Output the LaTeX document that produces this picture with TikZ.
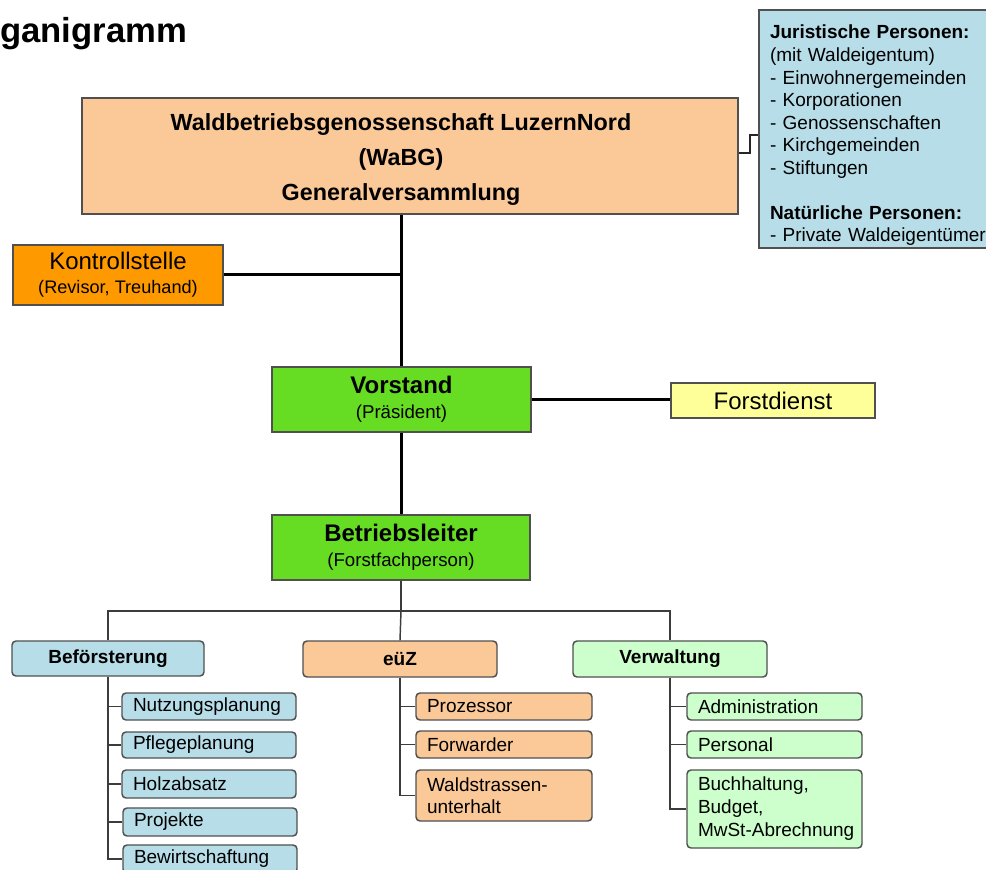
\documentclass[tikz,border=0pt]{standalone}
\usepackage{fontspec}
\setmainfont{Liberation Sans}
\definecolor{peach}{RGB}{251,200,152}
\definecolor{orangeK}{RGB}{255,153,0}
\definecolor{greenV}{RGB}{102,221,34}
\definecolor{yellowF}{RGB}{255,255,153}
\definecolor{blueB}{RGB}{183,221,232}
\definecolor{greenL}{RGB}{204,255,204}
\definecolor{bordergray}{RGB}{80,80,80}
\definecolor{linegray}{RGB}{60,60,60}
\newcommand\bx[7]{\node[#6, minimum width={(#4-#2)*0.75pt}, minimum height={(#5-#3)*0.75pt}] (#1) at ({(#2+#4)/2},{(#3+#5)/2}) {#7};}
\newcommand\lbx[7]{\pgfmathsetmacro\mytw{(#4-#2-22)*0.75}\node[#6, text width=\mytw pt, minimum height={(#5-#3)*0.75pt}] (#1) at ({(#2+#4)/2},{(#3+#5)/2}) {#7};}
\begin{document}
\begin{tikzpicture}[x=0.75pt,y=-0.75pt,
  box/.style={draw=bordergray, line width=1.1pt, inner sep=0pt, align=center},
  head/.style={box, rounded corners=3pt, font=\bfseries\fontsize{14.25}{17}\selectfont},
  sub/.style={box, rounded corners=3pt, align=left, inner xsep=8.25pt, font=\fontsize{14.25}{16.5}\selectfont},
  trunk/.style={line width=2.25pt, black},
  branch/.style={line width=1.1pt, draw=linegray},
  conn/.style={line width=1.6pt, draw=black!85}]
\useasboundingbox (0,0) rectangle (986,870);
\clip (0,0) rectangle (986,870);

\node[anchor=base west, inner sep=0pt, font=\bfseries\fontsize{26}{30}\selectfont] (title) at (0,43) {ganigramm};

\bx{wabg}{82}{98}{738}{214}{box, fill=peach}{}
\node[align=center, inner sep=0pt, font=\bfseries\fontsize{17.5}{26.25}\selectfont] (wabgtext) at (401,160) {Waldbetriebsgenossenschaft LuzernNord\\(WaBG)\\Generalversammlung};

\lbx{jur}{759}{10}{1000}{248}{box, fill=blueB, align=left, inner xsep=8.25pt, font=\fontsize{14.25}{16.9}\selectfont}{\rule{0pt}{20pt}\textbf{Juristische Personen:}\\(mit Waldeigentum)\\- Einwohnergemeinden\\- Korporationen\\- Genossenschaften\\- Kirchgemeinden\\- Stiftungen\\[16.9pt]\textbf{Natürliche Personen:}\\- Private Waldeigentümer}

\bx{kontroll}{13}{245}{223}{305}{box, fill=orangeK, font=\fontsize{13.6}{18}\selectfont}{{\fontsize{18}{18}\selectfont Kontrollstelle}\\(Revisor, Treuhand)}

\bx{vorstand}{272}{367}{531}{432}{box, fill=greenV, font=\fontsize{14}{18.75}\selectfont}{{\bfseries\fontsize{18}{18.75}\selectfont Vorstand}\\(Präsident)}

\bx{forst}{671}{383}{875}{418}{box, fill=yellowF, font=\fontsize{18}{20}\selectfont}{Forstdienst}

\bx{betrieb}{272}{515}{530}{580}{box, fill=greenV, font=\fontsize{14}{18.75}\selectfont}{{\bfseries\fontsize{18}{18.75}\selectfont Betriebsleiter}\\(Forstfachperson)}

\bx{befo}{12}{641}{204}{676}{head, fill=blueB}{Beförsterung}
\bx{euz}{303}{641}{497}{677}{head, fill=peach}{eüZ}
\bx{verw}{573}{641}{767}{677}{head, fill=greenL}{Verwaltung}

\lbx{n1}{122}{693}{296}{720}{sub, fill=blueB}{Nutzungsplanung}
\lbx{n2}{122}{732}{296}{758}{sub, fill=blueB}{Pflegeplanung}
\lbx{n3}{122}{770}{296}{798}{sub, fill=blueB}{Holzabsatz}
\lbx{n4}{123}{808}{297}{836}{sub, fill=blueB}{Projekte}
\lbx{n5}{123}{845}{297}{873}{sub, fill=blueB}{Bewirtschaftung}

\lbx{e1}{416}{693}{592}{720}{sub, fill=peach}{Prozessor}
\lbx{e2}{416}{731}{592}{758}{sub, fill=peach}{Forwarder}
\lbx{e3}{416}{770}{592}{821}{sub, fill=peach}{Waldstrassen-\\unterhalt}

\lbx{v1}{687}{693}{862}{720}{sub, fill=greenL}{Administration}
\lbx{v2}{687}{731}{862}{758}{sub, fill=greenL}{Personal}
\lbx{v3}{687}{770}{862}{848}{sub, fill=greenL, font=\fontsize{14.25}{17.2}\selectfont}{Buchhaltung,\\Budget,\\\mbox{MwSt-Abrechnung}}

% upper connectors
\draw[trunk] (vorstand.north |- wabg.south) -- (vorstand.north);
\draw[trunk] (kontroll.east) -- (kontroll.east -| vorstand.north);
\draw[trunk] (vorstand.east) -- (vorstand.east -| forst.west);
\draw[trunk] (vorstand.south) -- (vorstand.south |- betrieb.north);
\draw[conn] ([yshift=2pt]wabg.east) -- ++(11,0) |- ([yshift=-4.5pt]jur.west);

% lower tree
\coordinate (hb) at (betrieb.south |- 0,611);
\draw[branch] (betrieb.south) -- (hb);
\draw[branch] (befo.north) |- (hb) -| (verw.north);
\draw[branch] (hb) -- (euz.north);

\draw[branch] (befo.south) |- (n5.west);
\foreach \n in {n1,n2,n3,n4} \draw[branch] (\n.west) -- (\n.west -| befo.south);
\draw[branch] (euz.south) |- (e3.west);
\foreach \n in {e1,e2} \draw[branch] (\n.west) -- (\n.west -| euz.south);
\draw[branch] (verw.south) |- (v3.west);
\foreach \n in {v1,v2} \draw[branch] (\n.west) -- (\n.west -| verw.south);
\end{tikzpicture}
\end{document}
